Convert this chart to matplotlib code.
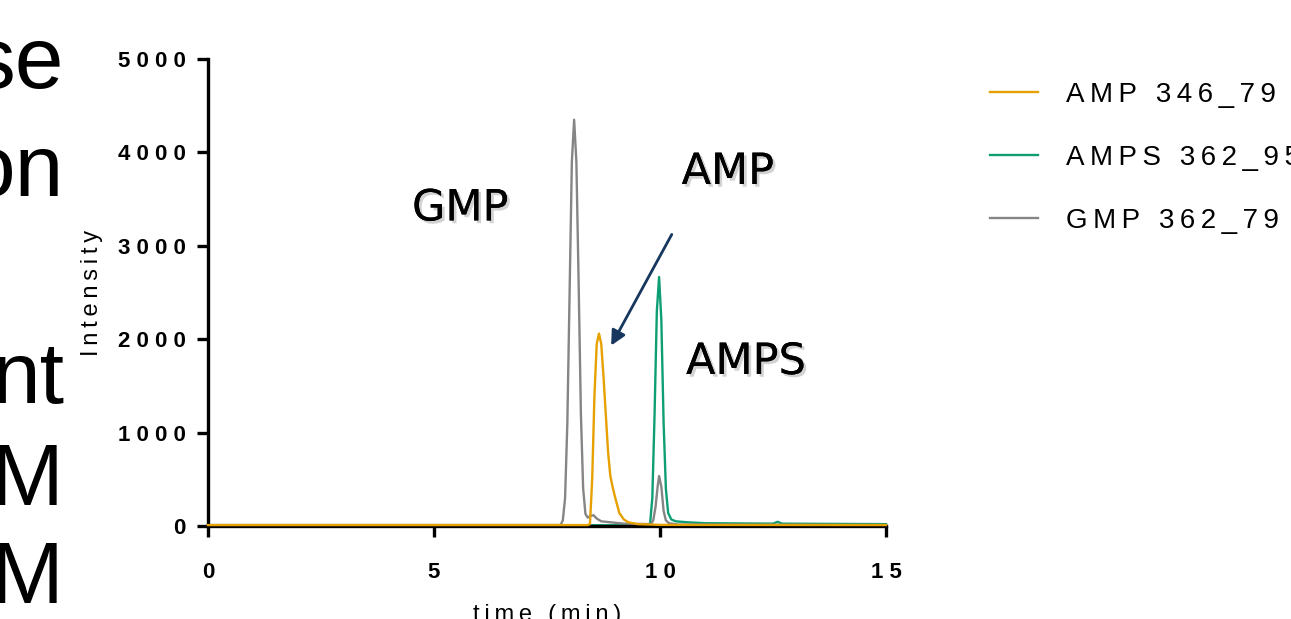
import matplotlib
matplotlib.use("Agg")
import matplotlib.pyplot as plt
import matplotlib.patheffects as pe

# chromatogram traces (time in min, intensity)
amp_t = [0, 8.4, 8.45, 8.5, 8.55, 8.6, 8.65, 8.7, 8.75, 8.8, 8.85, 8.9, 8.95,
         9.0, 9.05, 9.1, 9.2, 9.3, 9.5, 10.0, 15]
amp_i = [10, 10, 20, 500, 1400, 1950, 2060, 1950, 1600, 1200, 800, 540, 420,
         320, 230, 140, 70, 40, 20, 12, 10]

amps_t = [0, 9.7, 9.78, 9.83, 9.88, 9.93, 9.98, 10.03, 10.08, 10.13, 10.18,
          10.25, 10.35, 10.6, 11.0, 12.5, 12.6, 12.7, 15]
amps_i = [8, 8, 20, 300, 1200, 2300, 2666, 2200, 1100, 400, 140,
          70, 50, 40, 30, 25, 45, 25, 20]

gmp_t = [0, 7.8, 7.85, 7.9, 7.95, 8.0, 8.05, 8.1, 8.15, 8.2, 8.25, 8.3, 8.35,
         8.4, 8.47, 8.53, 8.6, 8.7, 8.9, 9.2, 9.8, 9.85, 9.9, 9.95, 9.98,
         10.03, 10.08, 10.13, 10.2, 10.4, 15]
gmp_i = [10, 10, 60, 300, 1100, 2500, 3900, 4350, 3900, 2600, 1200, 400, 130,
         90, 110, 115, 80, 50, 40, 25, 20, 60, 200, 430, 535,
         420, 160, 60, 30, 15, 10]

series = ["AMP 346_79", "AMPS 362_95", "GMP 362_79"]
colors = ["#E6A000", "#0E9E74", "#858585"]
peak_labels = ["GMP", "AMP", "AMPS"]
peak_pos = [(5.58, 3400), (11.5, 3790), (11.9, 1756)]

x_ticks = [0, 5, 10, 15]
y_ticks = [0, 1000, 2000, 3000, 4000, 5000]

slide_lines = ["se", "on", "nt", "M", "M"]
slide_base = [88, 196, 403, 505, 603]


def spaced(s, sep="\u2009"):
    return sep.join(s)


fig = plt.figure(figsize=(12.91, 6.19), dpi=100)
W, H = 1291, 619
ax = fig.add_axes([208 / W, 1 - 526 / H, (886 - 208) / W, (526 - 59) / H])

lines = []
for t, v, c, name, z in zip([amp_t, amps_t, gmp_t], [amp_i, amps_i, gmp_i],
                            colors, series, [3, 1, 2]):
    ln, = ax.plot(t, v, color=c, lw=1.7, zorder=z, label=spaced(name),
                  clip_on=False)
    lines.append(ln)

ax.set_xlim(0, 15)
ax.set_ylim(0, 5000)
for s in ["top", "right"]:
    ax.spines[s].set_visible(False)
for s in ["left", "bottom"]:
    ax.spines[s].set_linewidth(2.4)
ax.tick_params(direction="out", length=8, width=2.4, pad=8)
ax.set_xticks(x_ticks)
ax.set_xticklabels([" ".join(str(v)) for v in x_ticks], fontweight="bold",
                   fontsize=16, family="Liberation Sans")
ax.set_yticks(y_ticks)
ax.set_yticklabels([" ".join(str(v)) for v in y_ticks], fontweight="bold",
                   fontsize=16, family="Liberation Sans")
ax.tick_params(axis="x", pad=18)

ax.set_ylabel(spaced("Intensity"), fontsize=17,
              family=["Liberation Sans", "DejaVu Sans"])
ax.yaxis.set_label_coords((103 - 208) / 678, 0.5)
ax.set_xlabel(spaced("time (min)"), fontsize=17,
              family=["Liberation Sans", "DejaVu Sans"])
ax.xaxis.set_label_coords(0.5, (526 - 604) / 467)

shadow = [pe.withSimplePatchShadow(offset=(2, -2), alpha=0.35, shadow_rgbFace="gray"),
          pe.Normal()]
for lab, (x, y) in zip(peak_labels, peak_pos):
    ax.text(x, y, lab, fontsize=31, ha="center", va="center",
            family="DejaVu Sans", path_effects=shadow)

ax.annotate("", xy=(8.89, 1906), xytext=(10.29, 3148),
            arrowprops=dict(arrowstyle="-|>", color="#17375E", lw=2,
                            mutation_scale=22))

fig.legend(handles=lines, loc="upper left",
           bbox_to_anchor=(990 / W, 1 - 82 / H), frameon=False,
           prop={"family": ["Liberation Sans", "DejaVu Sans"], "size": 20},
           handlelength=1.72, handletextpad=1.0, labelspacing=1.33,
           borderaxespad=0, borderpad=0)

for txt, b in zip(slide_lines, slide_base):
    fig.text(64 / W, 1 - b / H, txt, fontsize=63, ha="right", va="baseline",
             family="Liberation Sans")

fig.savefig("out.png", dpi=100)
